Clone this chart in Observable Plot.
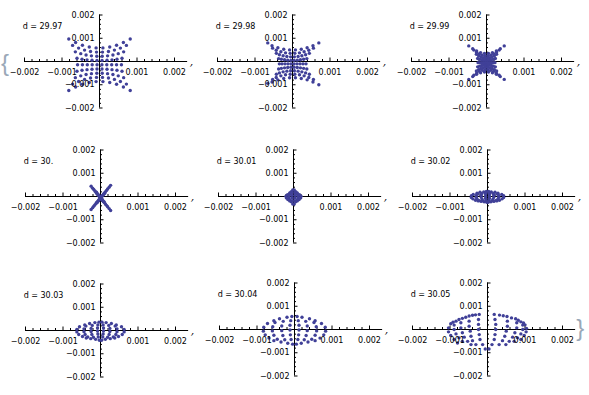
<!DOCTYPE html>
<html><head><meta charset="utf-8">
<script src="https://cdn.jsdelivr.net/npm/d3@7"></script>
<script src="https://cdn.jsdelivr.net/npm/@observablehq/plot@0.6"></script>
<style>
body{margin:0;background:#fff}
#root{position:relative;width:589px;height:395px;overflow:hidden;background:#fff}
#root svg{position:absolute}
</style>
</head><body><div id="root"></div>
<script>
// values in units of 1e-4
const tickValues = [-20, -10, 10, 20];
const tickLabels = ["−0.002", "−0.001", "0.001", "0.002"];
const minorTicks = [-18,-16,-14,-12,-8,-6,-4,-2,2,4,6,8,12,14,16,18];
const dLabels = ["d = 29.97","d = 29.98","d = 29.99","d = 30.","d = 30.01","d = 30.02","d = 30.03","d = 30.04","d = 30.05"];

const pts2997 = [
[0.91,5.85],[0.80,4.04],[0.72,2.23],[0.67,0.41],[0.65,-1.4],[0.67,-3.21],[0.72,-5.03],[0.80,-6.84],[0.91,-8.65],
[2.73,6.23],[2.39,4.32],[2.15,2.42],[2.0,0.51],[1.95,-1.4],[2.0,-3.31],[2.15,-5.22],[2.39,-7.12],[2.73,-9.03],
[4.55,7.0],[3.98,4.9],[3.58,2.8],[3.33,0.7],[3.25,-1.4],[3.33,-3.5],[3.58,-5.6],[3.98,-7.7],[4.55,-9.8],
[6.37,8.15],[5.57,5.77],[5.0,3.38],[4.66,0.99],[4.55,-1.4],[4.66,-3.79],[5.0,-6.18],[5.57,-8.57],[6.37,-10.95],
[8.19,9.69],[7.17,6.92],[6.44,4.14],[6.0,1.37],[5.85,-1.4],[6.0,-4.17],[6.44,-6.94],[7.17,-9.72],[8.19,-12.49],
[-0.91,5.85],[-0.80,4.04],[-0.72,2.23],[-0.67,0.41],[-0.65,-1.4],[-0.67,-3.21],[-0.72,-5.03],[-0.80,-6.84],[-0.91,-8.65],
[-2.73,6.23],[-2.39,4.32],[-2.15,2.42],[-2.0,0.51],[-1.95,-1.4],[-2.0,-3.31],[-2.15,-5.22],[-2.39,-7.12],[-2.73,-9.03],
[-4.55,7.0],[-3.98,4.9],[-3.58,2.8],[-3.33,0.7],[-3.25,-1.4],[-3.33,-3.5],[-3.58,-5.6],[-3.98,-7.7],[-4.55,-9.8],
[-6.37,8.15],[-5.57,5.77],[-5.0,3.38],[-4.66,0.99],[-4.55,-1.4],[-4.66,-3.79],[-5.0,-6.18],[-5.57,-8.57],[-6.37,-10.95],
[-8.19,9.69],[-7.17,6.92],[-6.44,4.14],[-6.0,1.37],[-5.85,-1.4],[-6.0,-4.17],[-6.44,-6.94],[-7.17,-9.72],[-8.19,-12.49]
];

const pts2998 = [
[0.78,5],[0.62,3.5],[0.5,2],[0.42,0.5],[0.4,-1],[0.42,-2.5],[0.5,-4],[0.62,-5.5],[0.78,-7],
[2.34,5.3],[1.86,3.73],[1.5,2.15],[1.27,0.58],[1.2,-1],[1.27,-2.58],[1.5,-4.15],[1.86,-5.73],[2.34,-7.3],
[3.9,5.9],[3.1,4.18],[2.5,2.45],[2.12,0.73],[2.0,-1],[2.12,-2.73],[2.5,-4.45],[3.1,-6.18],[3.9,-7.9],
[5.46,6.8],[4.34,4.85],[3.5,2.9],[2.97,0.95],[2.8,-1],[2.97,-2.95],[3.5,-4.9],[4.34,-6.85],[5.46,-8.8],
[7.02,8.0],[5.58,5.75],[4.5,3.5],[3.82,1.25],[3.6,-1],[3.82,-3.25],[4.5,-5.5],[5.58,-7.75],[7.02,-10],
[-0.78,5],[-0.62,3.5],[-0.5,2],[-0.42,0.5],[-0.4,-1],[-0.42,-2.5],[-0.5,-4],[-0.62,-5.5],[-0.78,-7],
[-2.34,5.3],[-1.86,3.73],[-1.5,2.15],[-1.27,0.58],[-1.2,-1],[-1.27,-2.58],[-1.5,-4.15],[-1.86,-5.73],[-2.34,-7.3],
[-3.9,5.9],[-3.1,4.18],[-2.5,2.45],[-2.12,0.73],[-2.0,-1],[-2.12,-2.73],[-2.5,-4.45],[-3.1,-6.18],[-3.9,-7.9],
[-5.46,6.8],[-4.34,4.85],[-3.5,2.9],[-2.97,0.95],[-2.8,-1],[-2.97,-2.95],[-3.5,-4.9],[-4.34,-6.85],[-5.46,-8.8],
[-6.6,8.0],[-5.3,5.75],[-4.3,3.5],[-3.7,1.25],[-3.5,-1],[-3.7,-3.25],[-4.3,-5.5],[-5.3,-7.75],[-6.6,-9.4]
];

const pts2999 = [
[0.53,3.5],[0.38,2.5],[0.3,1.5],[0.26,0.5],[0.25,-0.5],[0.26,-1.5],[0.3,-2.5],[0.38,-3.5],[0.53,-4.5],
[1.58,3.82],[1.13,2.74],[0.9,1.66],[0.79,0.58],[0.75,-0.5],[0.79,-1.58],[0.9,-2.66],[1.13,-3.74],[1.58,-4.82],
[2.63,4.5],[1.88,3.25],[1.5,2.0],[1.31,0.75],[1.25,-0.5],[1.31,-1.75],[1.5,-3.0],[1.88,-4.25],[2.63,-5.5],
[3.68,5.5],[2.63,4.0],[2.1,2.5],[1.84,1.0],[1.75,-0.5],[1.84,-2.0],[2.1,-3.5],[2.63,-5.0],[3.68,-6.5],
[4.73,6.7],[3.38,4.9],[2.7,3.1],[2.36,1.3],[2.25,-0.5],[2.36,-2.3],[2.7,-4.1],[3.38,-5.9],[4.73,-7.7],
[-0.53,3.5],[-0.38,2.5],[-0.3,1.5],[-0.26,0.5],[-0.25,-0.5],[-0.26,-1.5],[-0.3,-2.5],[-0.38,-3.5],[-0.53,-4.5],
[-1.58,3.82],[-1.13,2.74],[-0.9,1.66],[-0.79,0.58],[-0.75,-0.5],[-0.79,-1.58],[-0.9,-2.66],[-1.13,-3.74],[-1.58,-4.82],
[-2.63,4.5],[-1.88,3.25],[-1.5,2.0],[-1.31,0.75],[-1.25,-0.5],[-1.31,-1.75],[-1.5,-3.0],[-1.88,-4.25],[-2.63,-5.5],
[-3.68,5.5],[-2.63,4.0],[-2.1,2.5],[-1.84,1.0],[-1.75,-0.5],[-1.84,-2.0],[-2.1,-3.5],[-2.63,-5.0],[-3.68,-6.5],
[-4.73,6.7],[-3.38,4.9],[-2.7,3.1],[-2.36,1.3],[-2.25,-0.5],[-2.36,-2.3],[-2.7,-4.1],[-3.38,-5.9],[-4.73,-7.7]
];

const pts3000 = [
[-2.5,4.4],[-2.1,3.6],[-1.8,3.0],[-1.5,2.4],[-1.2,1.8],[-1.0,1.4],[-0.8,1.0],[-0.6,0.6],[-0.4,0.2],[-0.2,-0.2],[0,-0.6],
[0.2,-1.0],[0.4,-1.4],[0.6,-1.8],[0.8,-2.2],[1.0,-2.6],[1.3,-3.2],[1.6,-3.8],[1.9,-4.4],[2.3,-5.2],[2.7,-6.0],
[-2.5,-5.6],[-2.1,-4.8],[-1.8,-4.2],[-1.5,-3.6],[-1.2,-3.0],[-1.0,-2.6],[-0.8,-2.2],[-0.6,-1.8],[-0.4,-1.4],[-0.2,-1.0],
[0.2,-0.2],[0.4,0.2],[0.6,0.6],[0.8,1.0],[1.0,1.4],[1.3,2.0],[1.6,2.6],[1.9,3.2],[2.3,4.0],[2.7,4.8],
[-1.08,1.8],[-0.68,1.0],[-0.28,0.2],[0.12,-0.6],[0.52,-1.4],[0.92,-2.2],
[-0.88,-2.6],[-0.48,-1.8],[-0.08,-1.0],[0.32,-0.2],[0.72,0.6],[1.12,1.4]
];

const pts3001 = [
[-1,1.5],[-1.6,0.8],[-2,0.1],[-1.9,-0.6],[-1.5,-1.3],[-1,-1.9],
[-0.6,2.1],[-1,1.2],[-1.2,0.3],[-1.2,-0.6],[-1,-1.5],[-0.6,-2.3],
[-0.2,2.8],[-0.4,1.6],[-0.4,0.5],[-0.4,-0.6],[-0.35,-1.8],[-0.2,-3.2],
[1,1.5],[1.6,0.8],[2,0.1],[1.9,-0.6],[1.5,-1.3],[1,-1.9],
[0.6,2.1],[1,1.2],[1.2,0.3],[1.2,-0.6],[1,-1.5],[0.6,-2.3],
[0.2,2.8],[0.4,1.6],[0.4,0.5],[0.4,-0.6],[0.35,-1.8],[0.2,-3.2]
];

const pts3002 = [
[-2.8,1.4],[-3.8,0.9],[-4.3,0.3],[-4.3,-0.4],[-3.9,-1],[-3.2,-1.6],[-2.5,-1.9],
[-2,1.8],[-2.6,1.1],[-3,0.4],[-3,-0.3],[-2.8,-1],[-2.3,-1.7],[-1.7,-2.1],
[-1,2],[-1.5,1.3],[-1.7,0.5],[-1.7,-0.2],[-1.5,-1],[-1.3,-1.7],[-0.9,-2.3],
[-0.3,2.2],[-0.5,1.4],[-0.5,0.7],[-0.5,-0.1],[-0.5,-0.9],[-0.4,-1.7],[-0.2,-2.5],
[2.8,1.4],[3.8,0.9],[4.3,0.3],[4.3,-0.4],[3.9,-1],[3.2,-1.6],[2.5,-1.9],
[2,1.8],[2.6,1.1],[3,0.4],[3,-0.3],[2.8,-1],[2.3,-1.7],[1.7,-2.1],
[1,2],[1.5,1.3],[1.7,0.5],[1.7,-0.2],[1.5,-1],[1.3,-1.7],[0.9,-2.3],
[0.3,2.2],[0.5,1.4],[0.5,0.7],[0.5,-0.1],[0.5,-0.9],[0.4,-1.7],[0.2,-2.5]
];

const pts3003 = [
[-4.2,2.4],[-5.6,1.6],[-6.3,0.5],[-6.3,-0.6],[-5.8,-1.7],[-4.8,-2.6],[-3.8,-3.2],
[-2.9,3],[-3.9,1.9],[-4.4,0.7],[-4.4,-0.5],[-4.1,-1.7],[-3.4,-2.8],[-2.6,-3.5],
[-1.5,3.4],[-2.2,2.2],[-2.5,0.9],[-2.5,-0.4],[-2.3,-1.7],[-1.9,-2.9],[-1.3,-3.8],
[-0.4,3.6],[-0.7,2.4],[-0.8,1.1],[-0.8,-0.2],[-0.7,-1.5],[-0.6,-2.8],[-0.3,-4.2],
[4.2,2.4],[5.6,1.6],[6.3,0.5],[6.3,-0.6],[5.8,-1.7],[4.8,-2.6],[3.8,-3.2],
[2.9,3],[3.9,1.9],[4.4,0.7],[4.4,-0.5],[4.1,-1.7],[3.4,-2.8],[2.6,-3.5],
[1.5,3.4],[2.2,2.2],[2.5,0.9],[2.5,-0.4],[2.3,-1.7],[1.9,-2.9],[1.3,-3.8],
[0.4,3.6],[0.7,2.4],[0.8,1.1],[0.8,-0.2],[0.7,-1.5],[0.6,-2.8],[0.3,-4.2]
];

const pts3004 = [
[-5.5,3.8],[-7.2,2.6],[-8.2,1],[-8.3,-0.7],[-7.8,-2.3],[-6.8,-3.7],[-5.5,-4.8],
[-4,4.6],[-5.2,3],[-5.8,1.2],[-5.9,-0.6],[-5.5,-2.5],[-4.6,-4.2],[-3.6,-5.4],
[-2,5.3],[-3,3.5],[-3.4,1.5],[-3.4,-0.5],[-3.1,-2.6],[-2.6,-4.4],[-1.8,-5.9],
[-0.7,5.6],[-1,3.8],[-1.2,1.8],[-1.2,-0.2],[-1.1,-2.3],[-0.9,-4.3],[-0.5,-6.3],
[5.5,3.8],[7.2,2.6],[8.2,1],[8.3,-0.7],[7.8,-2.3],[6.8,-3.7],[5.5,-4.8],
[4,4.6],[5.2,3],[5.8,1.2],[5.9,-0.6],[5.5,-2.5],[4.6,-4.2],[3.6,-5.4],
[2,5.3],[3,3.5],[3.4,1.5],[3.4,-0.5],[3.1,-2.6],[2.6,-4.4],[1.8,-5.9],
[0.7,5.6],[1,3.8],[1.2,1.8],[1.2,-0.2],[1.1,-2.3],[0.9,-4.3],[0.5,-6.3]
];

const pts3005 = [
[1.8,6.5],[2,4.3],[2.2,2.2],[2.2,0],[2,-2.2],[1.8,-4.3],[1.2,-6.5],[0.4,-8.4],
[5.2,5.6],[5.3,3.6],[5.3,1.4],[5,-0.7],[4.6,-2.9],[4,-4.8],[3.1,-6.5],
[7.5,4.6],[7.8,2.9],[7.8,0.7],[7.3,-1.4],[6.7,-3.3],[5.8,-5.1],[4.9,-6.5],
[8.9,3.3],[9.4,1.9],[9.4,0],[8.9,-1.9],[8,-3.6],[7.1,-5.1],
[10,2],[10.4,0.5],[10.3,-1],[9.8,-2.6],[8.9,-4.3],
[-2.2,6.5],[-2.4,4.3],[-2.4,2.2],[-2.4,0],[-2.2,-2.2],[-2,-4.3],[-1.3,-6.5],[-0.6,-8.4],
[-4.9,5.8],[-4.9,3.6],[-4.9,1.4],[-4.6,-0.7],[-4.4,-2.9],[-4,-4.8],[-3.1,-6.5],
[-6.7,4.8],[-7.1,2.9],[-7.1,0.7],[-6.7,-1.4],[-6.2,-3.3],[-5.3,-5.1],[-4.4,-6.5],
[-8.4,3.6],[-8.9,1.9],[-8.9,0],[-8.4,-1.9],[-7.6,-3.6],[-6.7,-5.1],
[-9.8,2.5],[-10.4,0.7],[-10.4,-1.0],[-9.8,-2.6],[-8.9,-4.3],[-8,-5.8],
[-9.2,3.1],[-7.6,4.3],[-5.8,5.3],[-4,6.1],[-3.2,6.3],
[9.6,2.8],[8.2,4],[6.4,5],[4.2,5.9],[3.2,6.2]
];

const allPts = [pts2997, pts2998, pts2999, pts3000, pts3001, pts3002, pts3003, pts3004, pts3005];

// layout (pixel positions of each panel's origin)
const W = 193, H = 134, CX = 96, CY = 60, XS = 3.75, YS = 2.325;
const origins = [[2.7,1],[195.7,1],[389.7,1],[4,135.7],[197.3,135.7],[390.7,135.7],[4,270],[198,269],[390.7,269]];
const color = "rgb(64,64,152)";
const root = document.getElementById("root");

allPts.forEach((pts, k) => {
  const extra = [];
  if (k < 8) extra.push(Plot.text([","], {x: 20, y: 0, dx: 17, dy: 0, fontSize: 11, fontFamily: "DejaVu Serif", fontStyle: "italic", fill: "#000"}));
  else extra.push(Plot.text(["}"], {x: 20, y: 0, dx: 17.8, dy: -1, fontSize: 24, fontFamily: "Liberation Sans", fill: "#9aa8b8"}));
  if (k === 0) extra.push(Plot.text(["{"], {x: -20, y: 0, dx: -19.4, dy: 2, fontSize: 24, fontFamily: "Liberation Sans", fill: "#9aa8b8"}));
  const svg = Plot.plot({
    width: W, height: H,
    marginLeft: CX - 20 * XS, marginRight: W - (CX + 20 * XS),
    marginTop: CY - 20 * YS, marginBottom: H - (CY + 20 * YS),
    x: {domain: [-20, 20], axis: null},
    y: {domain: [-20, 20], axis: null},
    style: {fontFamily: "DejaVu Sans", fontSize: "8px", background: "transparent", overflow: "visible", color: "#000"},
    marks: [
      Plot.ruleY([0], {x1: -20, x2: 23.5, stroke: "#000"}),
      Plot.ruleX([0], {y1: -20, y2: 20, stroke: "#000"}),
      Plot.ruleX(tickValues, {x: d => d, y1: 0, y2: 3.5 / YS, stroke: "#000"}),
      Plot.ruleX(minorTicks, {x: d => d, y1: 0, y2: 2 / YS, stroke: "#000"}),
      Plot.ruleY(tickValues, {y: d => d, x1: 0, x2: 3.5 / XS, stroke: "#000"}),
      Plot.ruleY(minorTicks, {y: d => d, x1: 0, x2: 2 / XS, stroke: "#000"}),
      Plot.dot(pts, {x: d => d[0], y: d => d[1], r: 1.7, fill: color, stroke: "none"}),
      Plot.text(tickValues, {x: d => d, y: 0, text: (d, i) => tickLabels[i], dy: 10.7, fill: "#000"}),
      Plot.text(tickValues, {x: 0, y: d => d, text: (d, i) => tickLabels[i], dx: -5, textAnchor: "end", fill: "#000"}),
      Plot.text([dLabels[k]], {x: -20.5, y: 15, textAnchor: "start", fill: "#000"}),
      ...extra
    ]
  });
  svg.style.left = origins[k][0] + "px";
  svg.style.top = origins[k][1] + "px";
  root.appendChild(svg);
});
</script>
</body></html>
